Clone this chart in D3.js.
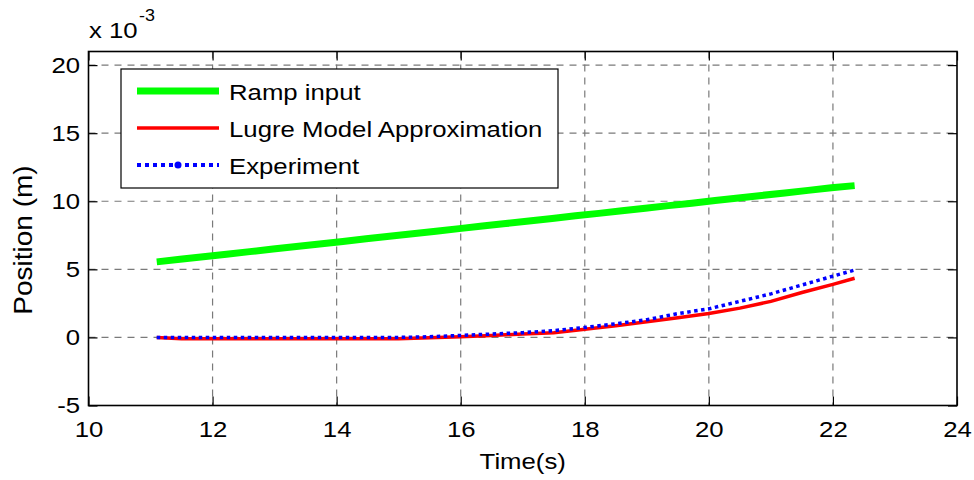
<!DOCTYPE html>
<html>
<head>
<meta charset="utf-8">
<script src="https://cdn.jsdelivr.net/npm/d3@7"></script>
<style>
	body { margin: 0; background: #fff; }
	text { font-family: "Liberation Sans", Arial, sans-serif; fill: #000; }
</style>
</head>
<body>
<div id="chart"></div>
<script>
(function () {
	'use strict';

	// values are in units of 1e-3 m (axis shows "x 10^-3")
	var rampTime = [11.1, 11.475, 11.85, 12.225, 12.6, 12.975, 13.35, 13.725, 14.1, 14.475,
		14.85, 15.225, 15.6, 15.975, 16.35, 16.725, 17.1, 17.475, 17.85, 18.225, 18.6,
		18.975, 19.35, 19.725, 20.1, 20.475, 20.85, 21.225, 21.6, 21.975, 22.35];
	var rampInput = [5.55, 5.74, 5.93, 6.11, 6.30, 6.49, 6.68, 6.86, 7.05, 7.24,
		7.43, 7.61, 7.80, 7.99, 8.18, 8.36, 8.55, 8.74, 8.93, 9.11, 9.30,
		9.49, 9.68, 9.86, 10.05, 10.24, 10.43, 10.61, 10.80, 10.99, 11.15];

	var time = [11.1, 11.5, 12, 12.5, 13, 13.5, 14, 14.5, 15, 15.5, 16, 16.5,
		17, 17.5, 18, 18.5, 19, 19.5, 20, 20.5, 21, 21.5, 22, 22.35];
	var lugre = [0.0, -0.1, -0.1, -0.1, -0.1, -0.1, -0.1, -0.1, -0.1, -0.03, 0.05, 0.15,
		0.25, 0.35, 0.6, 0.85, 1.15, 1.45, 1.75, 2.15, 2.65, 3.3, 3.9, 4.35];
	var experiment = [0.0, 0.0, 0.0, 0.0, 0.0, 0.0, 0.0, 0.0, 0.0, 0.05, 0.15, 0.25,
		0.35, 0.5, 0.73, 1.0, 1.3, 1.75, 2.1, 2.65, 3.2, 3.85, 4.5, 4.95];

	var xTicks = [10, 12, 14, 16, 18, 20, 22, 24];
	var yTicks = [-5, 0, 5, 10, 15, 20];
	var legendLabels = ["Ramp input", "Lugre Model Approximation", "Experiment"];

	var width = 974, height = 480;
	var left = 88.5, right = 957, top = 51.5, bottom = 405.5;
	var stretch = 'scale(1.12,1)';

	var svg = d3.select('#chart').append('svg')
		.attr('width', width)
		.attr('height', height);
	svg.append('rect').attr('width', width).attr('height', height).attr('fill', '#fff');

	var x = d3.scaleLinear().domain([10, 24]).range([left, right]);
	var y = d3.scaleLinear().domain([-5, 21]).range([bottom, top]);

	function label(g, px, py, str, size, anchor, rot) {
		var t = g.append('g')
			.attr('transform', 'translate(' + px + ',' + py + ')' + (rot ? ' rotate(' + rot + ')' : ''))
			.append('text')
			.attr('transform', stretch)
			.attr('text-anchor', anchor)
			.style('font-size', size + 'px')
			.text(str);
		return t;
	}

	// grid
	var grid = svg.append('g')
		.attr('stroke', '#7a7a7a')
		.attr('stroke-width', 1.2)
		.attr('stroke-dasharray', '7,6');
	grid.selectAll('line.gx')
		.data(xTicks.slice(1, -1))
		.enter().append('line')
		.attr('x1', function (d) { return x(d); })
		.attr('x2', function (d) { return x(d); })
		.attr('y1', top).attr('y2', bottom);
	grid.selectAll('line.gy')
		.data(yTicks.slice(1))
		.enter().append('line')
		.attr('y1', function (d) { return y(d); })
		.attr('y2', function (d) { return y(d); })
		.attr('x1', left).attr('x2', right);

	// series
	var rampLine = d3.line()
		.x(function (d, i) { return x(rampTime[i]); })
		.y(function (d) { return y(d); });
	var line = d3.line()
		.x(function (d, i) { return x(time[i]); })
		.y(function (d) { return y(d); });

	svg.append('path')
		.attr('d', rampLine(rampInput))
		.attr('fill', 'none')
		.attr('stroke', '#00ff00')
		.attr('stroke-width', 7);
	svg.append('path')
		.attr('d', line(lugre))
		.attr('fill', 'none')
		.attr('stroke', '#ff0000')
		.attr('stroke-width', 3.5);
	svg.append('path')
		.attr('d', line(experiment))
		.attr('fill', 'none')
		.attr('stroke', '#0000ff')
		.attr('stroke-width', 3.5)
		.attr('stroke-dasharray', '3.5,3.5');

	// axes, ticks on all four sides pointing inward
	var fmt = function (d) { return String(d); };
	svg.append('g')
		.attr('transform', 'translate(0,' + bottom + ')')
		.call(d3.axisBottom(x).tickValues(xTicks).tickSize(-9).tickPadding(15).tickFormat(fmt));
	svg.append('g')
		.attr('transform', 'translate(0,' + top + ')')
		.call(d3.axisTop(x).tickValues(xTicks).tickSize(-9).tickFormat(''));
	svg.append('g')
		.attr('transform', 'translate(' + left + ',0)')
		.call(d3.axisLeft(y).tickValues(yTicks).tickSize(-9).tickPadding(7.5).tickFormat(fmt));
	svg.append('g')
		.attr('transform', 'translate(' + right + ',0)')
		.call(d3.axisRight(y).tickValues(yTicks).tickSize(-9).tickFormat(''));

	svg.selectAll('.domain').remove();
	svg.selectAll('.tick line').attr('stroke', '#000').attr('stroke-width', 1.2);
	svg.selectAll('.tick text')
		.attr('transform', stretch)
		.style('font-family', '"Liberation Sans", Arial, sans-serif')
		.style('font-size', '23px')
		.attr('fill', '#000');

	svg.append('rect')
		.attr('x', left).attr('y', top)
		.attr('width', right - left).attr('height', bottom - top)
		.attr('fill', 'none')
		.attr('stroke', '#000')
		.attr('stroke-width', 1.6);

	// axis titles
	label(svg, (left + right) / 2, 469, 'Time(s)', 23, 'middle');
	label(svg, 31.5, 240, 'Position (m)', 25, 'middle', -90);
	label(svg, 89, 38, 'x 10', 23, 'start');
	label(svg, 139, 21, '-3', 16, 'start');

	// legend
	var lg = svg.append('g');
	lg.append('rect')
		.attr('x', 121).attr('y', 69)
		.attr('width', 437).attr('height', 119)
		.attr('fill', '#fff')
		.attr('stroke', '#000')
		.attr('stroke-width', 1.2);
	var rowY = [91, 128, 165];
	lg.append('line')
		.attr('x1', 137).attr('x2', 219).attr('y1', rowY[0]).attr('y2', rowY[0])
		.attr('stroke', '#00ff00').attr('stroke-width', 7);
	lg.append('line')
		.attr('x1', 137).attr('x2', 219).attr('y1', rowY[1]).attr('y2', rowY[1])
		.attr('stroke', '#ff0000').attr('stroke-width', 3.5);
	lg.append('line')
		.attr('x1', 137).attr('x2', 219).attr('y1', rowY[2]).attr('y2', rowY[2])
		.attr('stroke', '#0000ff').attr('stroke-width', 4).attr('stroke-dasharray', '4,4');
	lg.append('circle')
		.attr('cx', 178).attr('cy', rowY[2]).attr('r', 3.5)
		.attr('fill', '#0000ff');
	legendLabels.forEach(function (d, i) {
		label(lg, 229, rowY[i] + 8.5, d, 23, 'start');
	});
}());
</script>
</body>
</html>
